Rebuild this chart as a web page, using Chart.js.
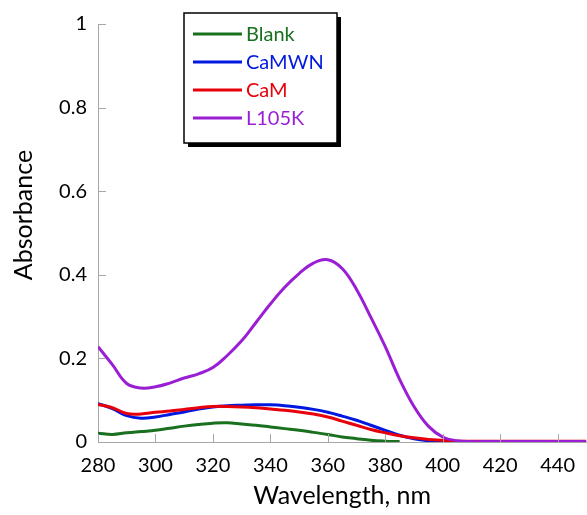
<!DOCTYPE html>
<html>
<head>
<meta charset="utf-8">
<script src="https://cdn.jsdelivr.net/npm/chart.js@4"></script>
<style>
  body { margin: 0; background: #fff; }
  #wrap { width: 587px; height: 515px; position: relative; }
</style>
</head>
<body>
<div id="wrap"><canvas id="absChart"></canvas></div>
<script>
// wavelength grid (nm)
const wavelengths = [280, 285, 290, 295, 300, 305, 310, 315, 320, 325, 330, 335, 340, 345, 350, 355, 360, 365, 370, 375, 380, 385, 390, 395, 400, 405, 410, 415, 420, 425, 430, 435, 440, 445, 450];

const blank  = [0.021, 0.018, 0.022, 0.025, 0.028, 0.033, 0.038, 0.042, 0.045, 0.046, 0.043, 0.040, 0.036, 0.032, 0.028, 0.023, 0.018, 0.012, 0.008, 0.004, 0.002, 0.001, null, null, null, null, null, null, null, null, null, null, null, null, null];
const camwn  = [0.092, 0.080, 0.063, 0.057, 0.060, 0.066, 0.072, 0.079, 0.084, 0.087, 0.088, 0.089, 0.089, 0.087, 0.083, 0.078, 0.071, 0.062, 0.052, 0.040, 0.028, 0.016, 0.008, 0.003, 0.001, 0, 0, 0, 0, 0, 0, 0, 0, 0, 0];
const cam    = [0.090, 0.082, 0.068, 0.067, 0.071, 0.074, 0.078, 0.082, 0.085, 0.085, 0.084, 0.082, 0.079, 0.076, 0.072, 0.067, 0.060, 0.050, 0.040, 0.030, 0.022, 0.015, 0.010, 0.006, 0.004, 0.002, 0.002, 0.002, 0.002, 0.002, 0.002, 0.002, 0.002, 0.002, 0.002];
const l105k  = [0.228, 0.185, 0.140, 0.129, 0.132, 0.141, 0.153, 0.163, 0.178, 0.207, 0.242, 0.286, 0.330, 0.370, 0.403, 0.428, 0.436, 0.415, 0.365, 0.298, 0.228, 0.150, 0.085, 0.038, 0.012, 0.003, 0.001, 0.001, 0.001, 0.001, 0.001, 0.001, 0.001, 0.001, 0.001];

const seriesNames = ["Blank", "CaMWN", "CaM", "L105K"];
const seriesColors = ["#19701f", "#0018e0", "#e8000b", "#9a1fd4"];
const yTicks = [0, 0.2, 0.4, 0.6, 0.8, 1];

const FONT = "Lato, 'Open Sans', sans-serif";

function toPoints(values) {
  return wavelengths.map((w, i) => ({ x: w, y: values[i] }));
}

// ticks pointing into the plot area
const innerTicks = {
  id: 'innerTicks',
  afterDatasetsDraw(chart) {
    const { ctx, chartArea, scales } = chart;
    ctx.save();
    ctx.strokeStyle = '#a6a6a6';
    ctx.lineWidth = 1;
    scales.x.ticks.forEach(t => {
      const px = Math.round(scales.x.getPixelForValue(t.value)) + 0.5;
      ctx.beginPath();
      ctx.moveTo(px, chartArea.bottom);
      ctx.lineTo(px, chartArea.bottom - 8);
      ctx.stroke();
    });
    scales.y.ticks.forEach(t => {
      const py = Math.round(scales.y.getPixelForValue(t.value)) + 0.5;
      ctx.beginPath();
      ctx.moveTo(chartArea.left, py);
      ctx.lineTo(chartArea.left + 8, py);
      ctx.stroke();
    });
    ctx.restore();
  }
};

// y title sits a bit above the plot centre in the original
const yTitle = {
  id: 'yTitle',
  afterDraw(chart) {
    const { ctx } = chart;
    ctx.save();
    ctx.translate(24, 215);
    ctx.rotate(-Math.PI / 2);
    ctx.font = "25px " + FONT;
    ctx.fillStyle = '#000';
    ctx.textAlign = 'center';
    ctx.textBaseline = 'middle';
    ctx.fillText('Absorbance', 0, 0);
    ctx.restore();
  }
};

// boxed legend with drop shadow inside the plot
const boxLegend = {
  id: 'boxLegend',
  afterDraw(chart) {
    const { ctx } = chart;
    const x0 = 184, y0 = 13, w = 153, h = 130;
    ctx.save();
    ctx.fillStyle = '#000';
    ctx.fillRect(x0 + 4, y0 + 4, w, h);
    ctx.fillStyle = '#fff';
    ctx.fillRect(x0, y0, w, h);
    ctx.strokeStyle = '#000';
    ctx.lineWidth = 1.5;
    ctx.strokeRect(x0, y0, w, h);
    ctx.font = "20px " + FONT;
    ctx.textBaseline = 'middle';
    seriesNames.forEach((name, i) => {
      const ry = 34 + i * 28;
      ctx.strokeStyle = seriesColors[i];
      ctx.lineWidth = 3;
      ctx.beginPath();
      ctx.moveTo(193, ry);
      ctx.lineTo(242, ry);
      ctx.stroke();
      ctx.fillStyle = seriesColors[i];
      ctx.fillText(name, 246, ry + 1);
    });
    ctx.restore();
  }
};

const datasets = [blank, camwn, cam, l105k].map((vals, i) => ({
  label: seriesNames[i],
  data: toPoints(vals),
  borderColor: seriesColors[i],
  backgroundColor: seriesColors[i],
  borderWidth: 3,
  pointRadius: 0,
  tension: 0.4,
  spanGaps: false
})).reverse();

new Chart(document.getElementById('absChart'), {
  type: 'line',
  data: { datasets: datasets },
  options: {
    responsive: true,
    maintainAspectRatio: false,
    animation: false,
    layout: { padding: { top: 24, right: 0, left: 0, bottom: 0 } },
    plugins: { legend: { display: false }, tooltip: { enabled: false } },
    scales: {
      x: {
        type: 'linear',
        min: 280,
        max: 450,
        grid: { display: false, drawTicks: false },
        border: { color: '#a6a6a6', width: 1 },
        ticks: { stepSize: 20, includeBounds: false, color: '#000', padding: 12, font: { family: FONT, size: 20 } },
        title: { display: true, text: 'Wavelength, nm', color: '#000', font: { family: FONT, size: 25 }, padding: { top: 2 } },
        afterFit(scale) { scale.height = 73; }
      },
      y: {
        min: 0,
        max: 1,
        afterBuildTicks(scale) { scale.ticks = yTicks.map(v => ({ value: v })); },
        grid: { display: false, drawTicks: false },
        border: { color: '#a6a6a6', width: 1 },
        ticks: { color: '#000', padding: 11, font: { family: FONT, size: 20 }, callback: v => String(v) },
        title: { display: false },
        afterFit(scale) { scale.width = 98; }
      }
    }
  },
  plugins: [innerTicks, yTitle, boxLegend]
});
</script>
</body>
</html>
